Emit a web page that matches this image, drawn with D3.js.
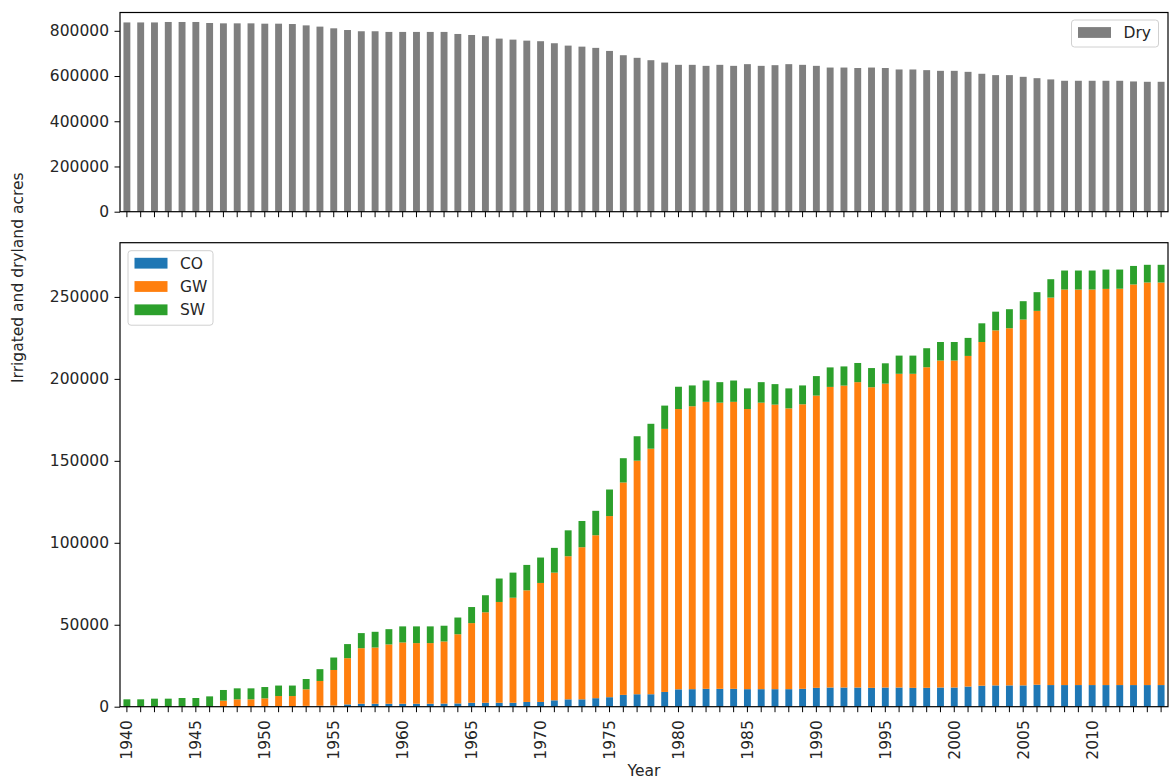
<!DOCTYPE html>
<html>
<head>
<meta charset="utf-8">
<script src="https://cdn.jsdelivr.net/npm/d3@7"></script>
<style>
  html, body { margin: 0; padding: 0; background: #fff; }
  svg { display: block; }
  text { font-family: "DejaVu Sans", sans-serif; fill: #262626; }
</style>
</head>
<body>
<svg id="chart" width="1173" height="778"></svg>
<script>
// ---- data ----
const years = d3.range(1940, 2016);

const dry = [
  837000, 837000, 837000, 839000, 839000, 839000, 834500, 833000, 833000, 833000,
  831500, 831500, 830000, 824000, 818500, 811000, 803500, 798000, 798000, 795000,
  795000, 795000, 795000, 795000, 786000, 781500, 776000, 765500, 761000, 756500,
  754000, 745000, 734500, 730000, 724500, 711000, 692000, 680500, 670000, 659500,
  649500, 649500, 645000, 649500, 645000, 652500, 645000, 648000, 652500, 649500,
  645000, 637500, 637500, 635500, 637500, 635500, 629000, 629000, 626000, 623000,
  623000, 618500, 610000, 604000, 604000, 596500, 590500, 585000, 579000, 579000,
  579000, 579000, 579000, 576000, 574500, 574500
];

const co = [
  0, 0, 0, 0, 0, 0, 0, 0, 0, 0,
  200, 400, 400, 500, 600, 700, 1400, 1800, 1800, 1800,
  1800, 1800, 1800, 1900, 2000, 2400, 2400, 2400, 2400, 2900,
  2900, 3900, 4500, 4500, 5200, 5800, 7200, 7600, 7600, 9000,
  10600, 10700, 10900, 10900, 10900, 10700, 10700, 10700, 10700, 10900,
  11500, 11700, 11700, 11700, 11500, 11700, 11700, 11500, 11500, 11700,
  11700, 12300, 12800, 13000, 13000, 13000, 13400, 13200, 13200, 13200,
  13200, 13200, 13200, 13200, 13200, 13200
];

const gw = [
  0, 0, 0, 0, 0, 0, 0, 3700, 4500, 4500,
  4900, 6100, 6100, 10100, 15100, 21700, 28200, 33900, 34300, 36200,
  37400, 37000, 37000, 37900, 42200, 48600, 55200, 61500, 64100, 68100,
  72600, 77900, 87300, 92800, 99400, 110500, 129600, 142500, 149800, 160500,
  171000, 172600, 175100, 174600, 175100, 170900, 174800, 173600, 171300, 173600,
  178300, 183400, 184200, 186300, 183400, 185400, 191400, 191600, 195600, 199500,
  199500, 201700, 209700, 216600, 217900, 223200, 228100, 236400, 241300, 241300,
  241300, 241700, 241800, 244400, 245600, 245600
];

const sw = [
  4500, 4500, 4900, 4900, 5300, 5300, 6300, 6500, 6700, 6700,
  6900, 6400, 6400, 6300, 7200, 7600, 8600, 9200, 9600, 9300,
  9800, 10200, 10200, 9600, 10200, 9800, 10400, 14300, 15300, 15500,
  15500, 15100, 15800, 16000, 14900, 16200, 14800, 14900, 15200, 14200,
  13600, 12700, 13000, 12500, 13000, 12600, 12500, 12500, 12200, 11500,
  11900, 11900, 11700, 11700, 11700, 12400, 11100, 11100, 11600, 11300,
  11300, 11000, 11400, 11400, 11600, 11200, 11400, 11200, 11600, 11600,
  11600, 11800, 11700, 11300, 10800, 10800
];

const seriesNames = ["CO", "GW", "SW"];
const dryTicks = [0, 200000, 400000, 600000, 800000];
const irrTicks = [0, 50000, 100000, 150000, 200000, 250000];
const yearLabels = [1940, 1945, 1950, 1955, 1960, 1965, 1970, 1975, 1980, 1985, 1990, 1995, 2000, 2005, 2010];

const colors = { CO: "#1f77b4", GW: "#ff7f0e", SW: "#2ca02c", Dry: "#7f7f7f" };

// ---- layout ----
const svg = d3.select("#chart");
const fs = 15.5;
const left = 120, right = 1168;
const top1 = { y0: 12.5, y1: 211.7 };
const top2 = { y0: 242.7, y1: 706.7 };
const tickLen = 5.5;

const x = d3.scaleBand().domain(years).range([left, right]).paddingInner(0.5).paddingOuter(0.25);

// ---- top panel: Dry ----
const y1 = d3.scaleLinear().domain([0, d3.max(dry) * 1.05]).range([top1.y1, top1.y0]);

const g1 = svg.append("g");
g1.selectAll("rect.dry").data(years).join("rect")
  .attr("x", (d) => x(d))
  .attr("width", x.bandwidth())
  .attr("y", (d, i) => y1(dry[i]))
  .attr("height", (d, i) => y1(0) - y1(dry[i]))
  .attr("fill", colors.Dry);

g1.append("g").attr("transform", `translate(${left},0)`)
  .call(d3.axisLeft(y1).tickValues(dryTicks).tickFormat(d3.format("d")).tickSize(tickLen).tickPadding(5.5));
g1.append("g").attr("transform", `translate(0,${top1.y1})`)
  .call(d3.axisBottom(x).tickSize(tickLen).tickFormat(""));

g1.append("rect").attr("x", left).attr("y", top1.y0)
  .attr("width", right - left).attr("height", top1.y1 - top1.y0)
  .attr("fill", "none").attr("stroke", "#000").attr("stroke-width", 1.2);

// ---- bottom panel: stacked ----
const rows = years.map((yr, i) => ({ year: yr, CO: co[i], GW: gw[i], SW: sw[i] }));
const stacked = d3.stack().keys(seriesNames)(rows);
const totalMax = d3.max(rows, (r) => r.CO + r.GW + r.SW);
const y2 = d3.scaleLinear().domain([0, totalMax * 1.05]).range([top2.y1, top2.y0]);

const g2 = svg.append("g");
g2.selectAll("g.layer").data(stacked).join("g")
  .attr("fill", (s) => colors[s.key])
  .selectAll("rect").data((s) => s).join("rect")
  .attr("x", (d) => x(d.data.year))
  .attr("width", x.bandwidth())
  .attr("y", (d) => y2(d[1]))
  .attr("height", (d) => Math.max(0, y2(d[0]) - y2(d[1])));

g2.append("g").attr("transform", `translate(${left},0)`)
  .call(d3.axisLeft(y2).tickValues(irrTicks).tickFormat(d3.format("d")).tickSize(tickLen).tickPadding(5.5));

const xa2 = g2.append("g").attr("transform", `translate(0,${top2.y1})`)
  .call(d3.axisBottom(x).tickSize(tickLen).tickFormat((d) => yearLabels.includes(d) ? String(d) : ""));
xa2.selectAll(".tick text")
  .attr("transform", "rotate(-90)")
  .attr("text-anchor", "end")
  .attr("x", -(tickLen + 8))
  .attr("y", 0)
  .attr("dy", "0.35em");

g2.append("rect").attr("x", left).attr("y", top2.y0)
  .attr("width", right - left).attr("height", top2.y1 - top2.y0)
  .attr("fill", "none").attr("stroke", "#000").attr("stroke-width", 1.2);

// axis styling
svg.selectAll(".domain").remove();
svg.selectAll(".tick line").attr("stroke", "#000").attr("stroke-width", 1);
svg.selectAll(".tick text").style("font-size", fs + "px").style("font-family", "DejaVu Sans").attr("fill", "#262626");

// ---- legends ----
function legend(items, bx, by, bw, bh, rowGap) {
  const lg = svg.append("g");
  lg.append("rect").attr("x", bx).attr("y", by).attr("width", bw).attr("height", bh)
    .attr("rx", 3).attr("fill", "#fff").attr("fill-opacity", 0.8)
    .attr("stroke", "#d0d0d0").attr("stroke-width", 1);
  items.forEach((name, i) => {
    const cy = by + 12.5 + i * rowGap;
    lg.append("rect").attr("x", bx + 6.5).attr("y", cy - 5.4).attr("width", 33).attr("height", 10.8)
      .attr("fill", colors[name]);
    lg.append("text").attr("x", bx + 52).attr("y", cy).attr("dy", "0.36em")
      .style("font-size", fs + "px").text(name);
  });
}
legend(["Dry"], 1071.5, 20, 87, 27, 0);
legend(seriesNames, 128, 250.7, 85, 74.5, 23.3);

// ---- axis labels ----
svg.append("text")
  .attr("transform", "translate(23,383) rotate(-90)")
  .attr("text-anchor", "start")
  .style("font-size", fs + "px")
  .text("Irrigated and dryland acres");

svg.append("text")
  .attr("x", (left + right) / 2).attr("y", 775.5)
  .attr("text-anchor", "middle")
  .style("font-size", fs + "px")
  .text("Year");
</script>
</body>
</html>
